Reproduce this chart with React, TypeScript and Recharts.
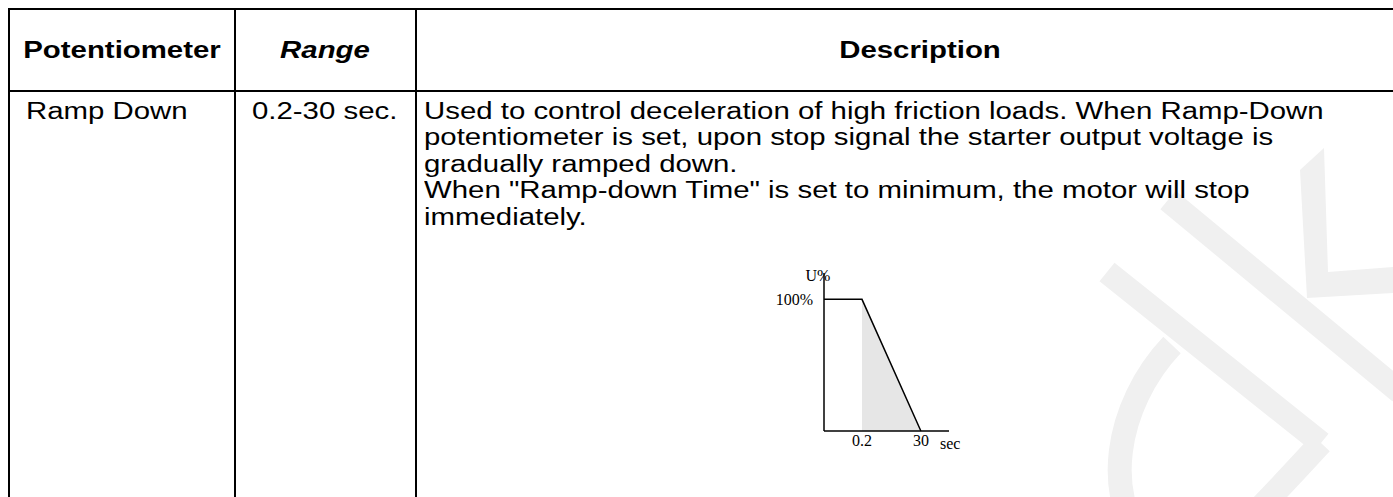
import { ComposedChart, Area, Line, XAxis, YAxis } from 'recharts';

// table texts
const headers = ['Potentiometer', 'Range', 'Description'];
const rowName = 'Ramp Down';
const rowRange = '0.2-30 sec.';
const descriptionLines = [
  'Used to control deceleration of high friction loads. When Ramp-Down',
  'potentiometer is set, upon stop signal the starter output voltage is',
  'gradually ramped down.',
  'When "Ramp-down Time" is set to minimum, the motor will stop',
  'immediately.',
];

// ramp-down sketch (time axis is schematic, not to scale)
const timeLabels = ['0', '0.2', '30'];
const timeAxisPos = [0, 1, 2.55];
const outputVoltage = [100, 100, 0];
const rampShade = [null, 100, 0];
const voltageTicks = [100];

const rows = timeAxisPos.map((pos, i) => ({
  pos,
  label: timeLabels[i],
  u: outputVoltage[i],
  shade: rampShade[i],
}));

const FONT = '"Liberation Sans", Arial, sans-serif';
const SERIF = '"Liberation Serif", "Times New Roman", serif';
const FS = 23.5;
const LH = 26.5;
const SX = 1.25;
const BASE_OFF = (LH - 1.117 * FS) / 2 + 0.905 * FS;

function Txt({
  x,
  baseline,
  children,
  bold,
  italic,
  center,
}: {
  x: number;
  baseline: number;
  children: string;
  bold?: boolean;
  italic?: boolean;
  center?: boolean;
}) {
  const w = 1000;
  return (
    <div
      style={{
        position: 'absolute',
        left: center ? x - w / 2 : x,
        top: baseline - BASE_OFF,
        width: center ? w : undefined,
        height: LH,
        textAlign: center ? 'center' : 'left',
        whiteSpace: 'pre',
        fontFamily: FONT,
        fontSize: FS,
        lineHeight: `${LH}px`,
        fontWeight: bold ? 700 : 400,
        fontStyle: italic ? 'italic' : 'normal',
        color: '#000',
        transform: `scaleX(${SX})`,
        transformOrigin: center ? 'center' : 'left',
      }}
    >
      {children}
    </div>
  );
}

function HLine({ y }: { y: number }) {
  return <div style={{ position: 'absolute', left: 8, top: y, width: 1385, height: 2, background: '#000' }} />;
}

function VLine({ x }: { x: number }) {
  return <div style={{ position: 'absolute', left: x, top: 8, width: 2, height: 489, background: '#000' }} />;
}

function Watermark() {
  const c = '#f0f0f0';
  return (
    <svg width={1393} height={497} style={{ position: 'absolute', left: 0, top: 0 }}>
      <line x1={1107} y1={272} x2={1321} y2={443} stroke={c} strokeWidth={24} />
      <path
        d="M 1172 345 C 1115 405, 1100 500, 1150 550 C 1190 590, 1240 530, 1321 443"
        fill="none"
        stroke={c}
        strokeWidth={24}
      />
      <line x1={1168} y1={200} x2={1400} y2={392} stroke={c} strokeWidth={24} />
      <polygon points="1300,170 1324,148 1328,272 1393,267 1393,293 1307,298" fill={c} />
    </svg>
  );
}

function RampChart() {
  const tickStyle = { fill: '#000', fontSize: 16, fontFamily: SERIF };
  return (
    <div style={{ position: 'absolute', left: 760, top: 255 }}>
      <ComposedChart width={220} height={200} data={rows} margin={{ top: 18, right: 31, bottom: 0, left: 0 }}>
        <XAxis
          type="number"
          dataKey="pos"
          domain={[0, 3.29]}
          ticks={timeAxisPos.slice(1)}
          tickFormatter={(v: number) => timeLabels[timeAxisPos.indexOf(v)] ?? ''}
          axisLine={{ stroke: '#000', strokeWidth: 1.5 }}
          tickLine={false}
          tickSize={0}
          tickMargin={4}
          height={24}
          tick={tickStyle}
          label={{ value: 'sec', position: 'right', offset: -9, fill: '#000', fontSize: 16, fontFamily: SERIF }}
        />
        <YAxis
          type="number"
          domain={[0, 120]}
          ticks={voltageTicks}
          tickFormatter={(v: number) => `${v}%`}
          axisLine={{ stroke: '#000', strokeWidth: 1.5 }}
          tickLine={false}
          tickSize={0}
          tickMargin={11}
          width={64}
          tick={tickStyle}
          label={{ value: 'U%', position: 'top', offset: -8, dx: 26, fill: '#000', fontSize: 16, fontFamily: SERIF }}
        />
        <Area
          type="linear"
          dataKey="shade"
          stroke="none"
          fill="#e6e6e6"
          fillOpacity={1}
          isAnimationActive={false}
        />
        <Line
          type="linear"
          dataKey="u"
          stroke="#000"
          strokeWidth={1.5}
          dot={false}
          isAnimationActive={false}
        />
      </ComposedChart>
    </div>
  );
}

export default function App() {
  return (
    <div
      style={{
        position: 'absolute',
        left: 0,
        top: 0,
        width: 1393,
        height: 497,
        overflow: 'hidden',
        background: '#fff',
      }}
    >
      <Watermark />
      <HLine y={8} />
      <HLine y={90} />
      <VLine x={8} />
      <VLine x={234} />
      <VLine x={415} />

      <Txt x={122} baseline={58} bold center>{headers[0]}</Txt>
      <Txt x={325} baseline={58} bold italic center>{headers[1]}</Txt>
      <Txt x={920} baseline={58} bold center>{headers[2]}</Txt>

      <Txt x={26} baseline={119}>{rowName}</Txt>
      <Txt x={252} baseline={119}>{rowRange}</Txt>
      {descriptionLines.map((line, i) => (
        <Txt key={i} x={424} baseline={119 + i * LH}>{line}</Txt>
      ))}

      <RampChart />
    </div>
  );
}
